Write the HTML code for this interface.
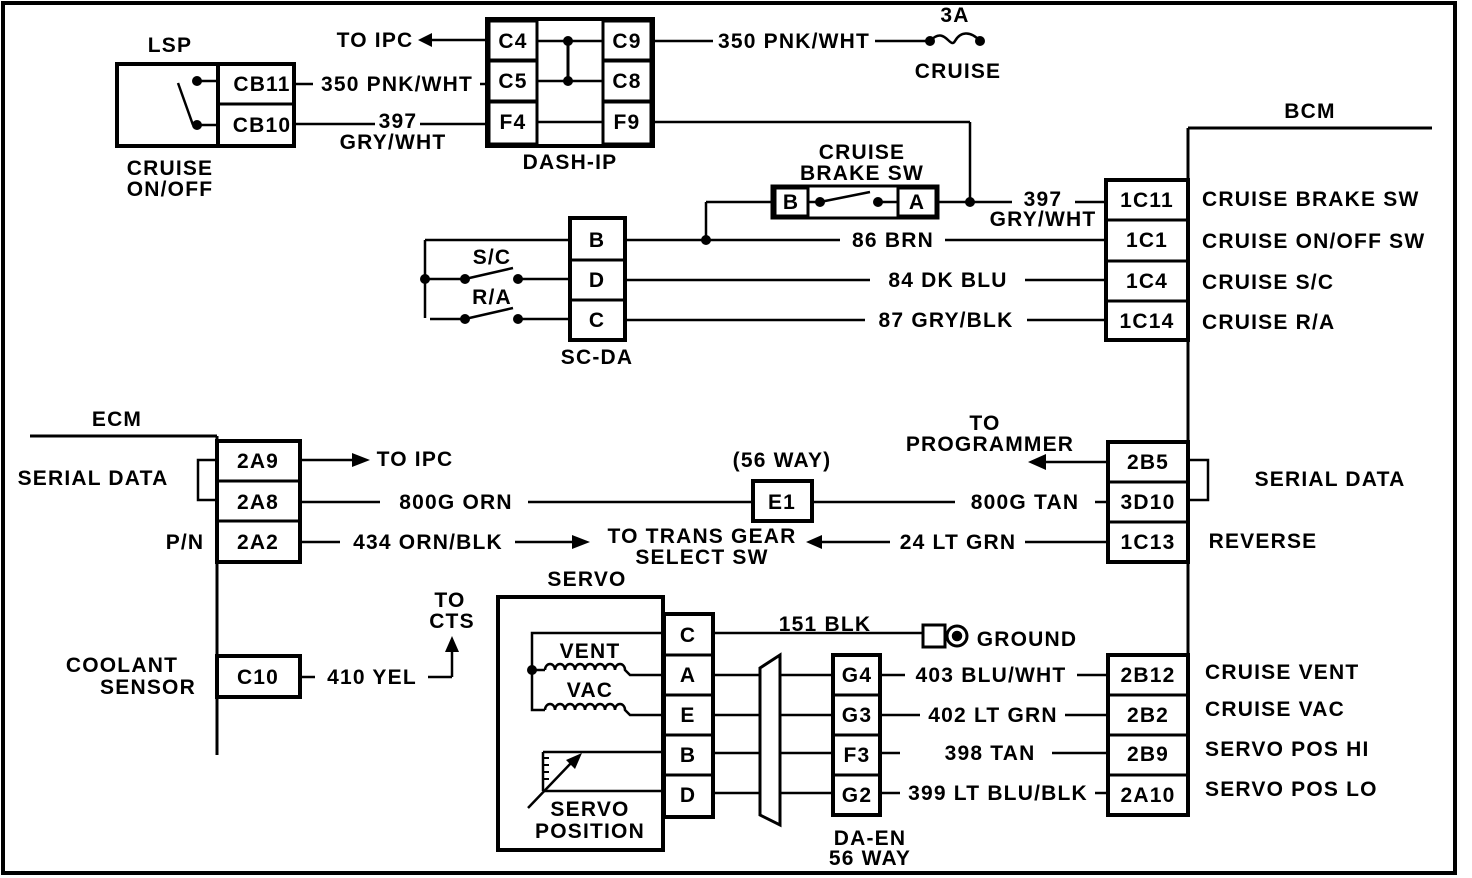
<!DOCTYPE html>
<html><head><meta charset="utf-8"><style>
html,body{margin:0;padding:0;background:#fff;}
svg{display:block;}
text{font-family:"Liberation Sans",Arial,sans-serif;font-weight:bold;font-size:21px;letter-spacing:1.2px;fill:#000;}
</style></head><body>
<svg width="1472" height="878" viewBox="0 0 1472 878" xmlns="http://www.w3.org/2000/svg">
<g fill="none" stroke="#000" stroke-width="2.5">
<rect x="3" y="3" width="1452" height="870" stroke-width="4"/>
<!-- LSP -->
<rect x="117" y="64" width="177" height="82" stroke-width="4"/>
<line x1="218" y1="64" x2="218" y2="146" stroke-width="4"/>
<line x1="218" y1="104" x2="294" y2="104" stroke-width="3"/>
<line x1="178" y1="83" x2="193" y2="125"/>
<line x1="197" y1="81" x2="218" y2="81"/>
<line x1="197" y1="125" x2="218" y2="125"/>
<!-- LSP wires -->
<line x1="294" y1="84" x2="313" y2="84"/><line x1="480" y1="84" x2="487" y2="84"/>
<line x1="294" y1="124" x2="375" y2="124"/><line x1="420" y1="124" x2="487" y2="124"/>
<!-- DASH-IP -->
<rect x="487" y="19" width="166" height="127" stroke-width="4"/>
<rect x="489" y="21" width="48" height="39" stroke-width="3"/>
<rect x="489" y="61" width="48" height="40" stroke-width="3"/>
<rect x="489" y="102" width="48" height="42" stroke-width="3"/>
<rect x="603" y="21" width="48" height="39" stroke-width="3"/>
<rect x="603" y="61" width="48" height="40" stroke-width="3"/>
<rect x="603" y="102" width="48" height="42" stroke-width="3"/>
<line x1="537" y1="41" x2="603" y2="41"/><line x1="537" y1="81" x2="603" y2="81"/><line x1="537" y1="122" x2="603" y2="122"/>
<line x1="568" y1="41" x2="568" y2="81" stroke-width="3"/>
<line x1="432" y1="40" x2="487" y2="40"/>
<line x1="653" y1="41" x2="713" y2="41"/><line x1="875" y1="41" x2="930" y2="41"/>
<path d="M930 41 C945 25,950 50,955 41 S970 30,980 41"/>
<line x1="653" y1="122" x2="970" y2="122"/>
<line x1="970" y1="122" x2="970" y2="202"/>
<!-- brake sw -->
<rect x="772" y="186" width="166" height="32" stroke-width="3"/>
<rect x="775" y="188" width="33" height="28" stroke-width="3"/>
<rect x="898" y="188" width="38" height="28" stroke-width="3"/>
<line x1="808" y1="202" x2="820" y2="202"/><line x1="878" y1="202" x2="898" y2="202"/>
<line x1="820" y1="202" x2="870" y2="192"/>
<line x1="938" y1="202" x2="1012" y2="202"/><line x1="1075" y1="202" x2="1105" y2="202"/>
<line x1="772" y1="202" x2="706" y2="202"/><line x1="706" y1="202" x2="706" y2="240"/>
<!-- BCM -->
<line x1="1188" y1="128" x2="1432" y2="128" stroke-width="3"/>
<line x1="1188" y1="128" x2="1188" y2="815" stroke-width="3"/>
<rect x="1106" y="180" width="82" height="160" stroke-width="4"/>
<line x1="1106" y1="220" x2="1188" y2="220" stroke-width="3"/>
<line x1="1106" y1="261" x2="1188" y2="261" stroke-width="3"/>
<line x1="1106" y1="301" x2="1188" y2="301" stroke-width="3"/>
<!-- SC-DA -->
<rect x="570" y="218" width="55" height="122" stroke-width="4"/>
<line x1="570" y1="260" x2="625" y2="260" stroke-width="3"/>
<line x1="570" y1="300" x2="625" y2="300" stroke-width="3"/>
<line x1="625" y1="240" x2="840" y2="240"/><line x1="945" y1="240" x2="1106" y2="240"/>
<line x1="625" y1="280" x2="870" y2="280"/><line x1="1025" y1="280" x2="1106" y2="280"/>
<line x1="625" y1="320" x2="865" y2="320"/><line x1="1027" y1="320" x2="1106" y2="320"/>
<line x1="425" y1="240" x2="570" y2="240"/><line x1="425" y1="240" x2="425" y2="318"/>
<line x1="425" y1="279" x2="465" y2="279"/><line x1="465" y1="279" x2="513" y2="268"/><line x1="518" y1="279" x2="570" y2="279"/>
<line x1="430" y1="319" x2="465" y2="319"/><line x1="465" y1="319" x2="513" y2="308"/><line x1="518" y1="319" x2="570" y2="319"/>
<!-- ECM -->
<line x1="30" y1="436" x2="217" y2="436" stroke-width="3"/>
<line x1="217" y1="436" x2="217" y2="755" stroke-width="3"/>
<rect x="217" y="441" width="83" height="121" stroke-width="4"/>
<line x1="217" y1="481" x2="300" y2="481" stroke-width="3"/>
<line x1="217" y1="521" x2="300" y2="521" stroke-width="3"/>
<rect x="217" y="656" width="83" height="41" stroke-width="4"/>
<polyline points="217,460 198,460 198,500 217,500"/>
<line x1="300" y1="460" x2="352" y2="460"/>
<line x1="300" y1="502" x2="380" y2="502"/><line x1="528" y1="502" x2="753" y2="502"/>
<rect x="753" y="481" width="59" height="40" stroke-width="4"/>
<line x1="812" y1="502" x2="955" y2="502"/><line x1="1095" y1="502" x2="1108" y2="502"/>
<line x1="300" y1="542" x2="340" y2="542"/><line x1="515" y1="542" x2="572" y2="542"/>
<line x1="822" y1="542" x2="890" y2="542"/><line x1="1025" y1="542" x2="1108" y2="542"/>
<line x1="1046" y1="462" x2="1108" y2="462"/>
<rect x="1108" y="442" width="80" height="120" stroke-width="4"/>
<line x1="1108" y1="482" x2="1188" y2="482" stroke-width="3"/>
<line x1="1108" y1="522" x2="1188" y2="522" stroke-width="3"/>
<polyline points="1188,460 1208,460 1208,500 1188,500"/>
<line x1="300" y1="677" x2="315" y2="677"/><line x1="428" y1="677" x2="452" y2="677"/><line x1="452" y1="677" x2="452" y2="650"/>
<!-- SERVO -->
<rect x="498" y="597" width="165" height="253" stroke-width="4"/>
<rect x="664" y="614" width="49" height="203" stroke-width="4"/>
<line x1="664" y1="655" x2="713" y2="655" stroke-width="3"/>
<line x1="664" y1="695" x2="713" y2="695" stroke-width="3"/>
<line x1="664" y1="735" x2="713" y2="735" stroke-width="3"/>
<line x1="664" y1="775" x2="713" y2="775" stroke-width="3"/>
<polyline points="664,633 532,633 532,710 545,710"/>
<line x1="532" y1="670" x2="545" y2="670"/>
<path d="M545 670 a5 6 0 0 1 10 0 a5 6 0 0 1 10 0 a5 6 0 0 1 10 0 a5 6 0 0 1 10 0 a5 6 0 0 1 10 0 a5 6 0 0 1 10 0 a5 6 0 0 1 10 0 a5 6 0 0 1 10 0 L630 675 L664 675"/>
<path d="M545 710 a5 6 0 0 1 10 0 a5 6 0 0 1 10 0 a5 6 0 0 1 10 0 a5 6 0 0 1 10 0 a5 6 0 0 1 10 0 a5 6 0 0 1 10 0 a5 6 0 0 1 10 0 a5 6 0 0 1 10 0 L630 715 L664 715"/>
<line x1="543" y1="752" x2="664" y2="752"/>
<line x1="543" y1="791" x2="664" y2="791"/>
<line x1="543" y1="752" x2="543" y2="791"/>
<path d="M543 758 h6 M543 765 h6 M543 772 h6 M543 779 h6" stroke-width="2"/>
<line x1="528" y1="808" x2="572" y2="762"/>
<line x1="713" y1="633" x2="922" y2="633"/>
<rect x="923" y="625" width="22" height="22" stroke-width="3"/>
<circle cx="957" cy="636" r="10" stroke-width="3"/><circle cx="957" cy="636" r="4" fill="#000"/>
<line x1="713" y1="675" x2="760" y2="675"/><line x1="713" y1="715" x2="760" y2="715"/>
<line x1="713" y1="753" x2="760" y2="753"/><line x1="713" y1="793" x2="760" y2="793"/>
<polygon points="760,668 780,655 780,825 760,815" stroke-width="3"/>
<line x1="780" y1="675" x2="833" y2="675"/><line x1="780" y1="715" x2="833" y2="715"/>
<line x1="780" y1="753" x2="833" y2="753"/><line x1="780" y1="793" x2="833" y2="793"/>
<rect x="833" y="655" width="47" height="160" stroke-width="4"/>
<line x1="833" y1="695" x2="880" y2="695" stroke-width="3"/>
<line x1="833" y1="735" x2="880" y2="735" stroke-width="3"/>
<line x1="833" y1="775" x2="880" y2="775" stroke-width="3"/>
<line x1="880" y1="675" x2="905" y2="675"/><line x1="1077" y1="675" x2="1108" y2="675"/>
<line x1="880" y1="715" x2="920" y2="715"/><line x1="1065" y1="715" x2="1108" y2="715"/>
<line x1="880" y1="753" x2="900" y2="753"/><line x1="1052" y1="753" x2="1108" y2="753"/>
<line x1="880" y1="793" x2="900" y2="793"/><line x1="1095" y1="793" x2="1108" y2="793"/>
<rect x="1108" y="655" width="80" height="160" stroke-width="4"/>
<line x1="1108" y1="695" x2="1188" y2="695" stroke-width="3"/>
<line x1="1108" y1="735" x2="1188" y2="735" stroke-width="3"/>
<line x1="1108" y1="775" x2="1188" y2="775" stroke-width="3"/>
</g>
<g fill="#000">
<circle cx="197" cy="81" r="5"/><circle cx="197" cy="125" r="5"/>
<circle cx="568" cy="41" r="5"/><circle cx="568" cy="81" r="5"/>
<circle cx="930" cy="41" r="5"/><circle cx="980" cy="41" r="5"/>
<circle cx="970" cy="202" r="5"/><circle cx="706" cy="240" r="5"/>
<circle cx="820" cy="202" r="5"/><circle cx="878" cy="202" r="5"/>
<circle cx="425" cy="279" r="5"/><circle cx="465" cy="279" r="5"/><circle cx="518" cy="279" r="5"/>
<circle cx="465" cy="319" r="5"/><circle cx="518" cy="319" r="5"/>
<circle cx="532" cy="670" r="5"/>
<polygon points="418,40 432,33 432,47"/>
<polygon points="370,460 352,453 352,467"/>
<polygon points="1028,462 1046,454 1046,470"/>
<polygon points="590,542 572,535 572,549"/>
<polygon points="806,542 822,535 822,549"/>
<polygon points="452,636 445,652 459,652"/>
<polygon points="582,753 566,760 575,769"/>
</g>
<g text-anchor="middle">
<text x="170" y="52">LSP</text>
<text x="262" y="91">CB11</text><text x="262" y="132">CB10</text>
<text x="170" y="175">CRUISE</text><text x="170" y="196">ON/OFF</text>
<text x="397" y="91">350 PNK/WHT</text>
<text x="398" y="128">397</text><text x="393" y="149">GRY/WHT</text>
<text x="375" y="47">TO IPC</text>
<text x="513" y="48">C4</text><text x="513" y="88">C5</text><text x="513" y="129">F4</text>
<text x="627" y="48">C9</text><text x="627" y="88">C8</text><text x="627" y="129">F9</text>
<text x="570" y="169">DASH-IP</text>
<text x="794" y="48">350 PNK/WHT</text>
<text x="955" y="22">3A</text><text x="958" y="78">CRUISE</text>
<text x="862" y="159">CRUISE</text><text x="862" y="180">BRAKE SW</text>
<text x="791" y="209">B</text><text x="917" y="209">A</text>
<text x="1043" y="206">397</text><text x="1043" y="226">GRY/WHT</text>
<text x="1310" y="118">BCM</text>
<text x="1147" y="207">1C11</text><text x="1147" y="247">1C1</text>
<text x="1147" y="288">1C4</text><text x="1147" y="328">1C14</text>
<text x="597" y="247">B</text><text x="597" y="287">D</text><text x="597" y="327">C</text>
<text x="597" y="364">SC-DA</text>
<text x="492" y="264">S/C</text><text x="492" y="304">R/A</text>
<text x="893" y="247">86 BRN</text>
<text x="948" y="287">84 DK BLU</text>
<text x="946" y="327">87 GRY/BLK</text>
<text x="117" y="426">ECM</text>
<text x="258" y="468">2A9</text><text x="258" y="509">2A8</text><text x="258" y="549">2A2</text>
<text x="258" y="684">C10</text>
<text x="93" y="485">SERIAL DATA</text>
<text x="185" y="549">P/N</text>
<text x="122" y="672">COOLANT</text><text x="148" y="694">SENSOR</text>
<text x="415" y="466">TO IPC</text>
<text x="456" y="509">800G ORN</text>
<text x="782" y="467">(56 WAY)</text>
<text x="782" y="509">E1</text>
<text x="1025" y="509">800G TAN</text>
<text x="985" y="430">TO</text><text x="990" y="451">PROGRAMMER</text>
<text x="1148" y="469">2B5</text><text x="1148" y="509">3D10</text><text x="1148" y="549">1C13</text>
<text x="1330" y="486">SERIAL DATA</text>
<text x="1263" y="548">REVERSE</text>
<text x="428" y="549">434 ORN/BLK</text>
<text x="702" y="543">TO TRANS GEAR</text><text x="702" y="564">SELECT SW</text>
<text x="958" y="549">24 LT GRN</text>
<text x="450" y="607">TO</text><text x="452" y="628">CTS</text>
<text x="372" y="684">410 YEL</text>
<text x="587" y="586">SERVO</text>
<text x="590" y="658">VENT</text><text x="590" y="697">VAC</text>
<text x="590" y="816">SERVO</text><text x="590" y="838">POSITION</text>
<text x="688" y="642">C</text><text x="688" y="682">A</text><text x="688" y="722">E</text>
<text x="688" y="762">B</text><text x="688" y="802">D</text>
<text x="825" y="631">151 BLK</text>
<text x="1027" y="646">GROUND</text>
<text x="857" y="682">G4</text><text x="857" y="722">G3</text><text x="857" y="762">F3</text><text x="857" y="802">G2</text>
<text x="870" y="845">DA-EN</text><text x="870" y="865">56 WAY</text>
<text x="991" y="682">403 BLU/WHT</text>
<text x="993" y="722">402 LT GRN</text>
<text x="990" y="760">398 TAN</text>
<text x="998" y="800">399 LT BLU/BLK</text>
<text x="1148" y="682">2B12</text><text x="1148" y="722">2B2</text><text x="1148" y="761">2B9</text><text x="1148" y="802">2A10</text>
</g>
<g>
<text x="1202" y="206">CRUISE BRAKE SW</text>
<text x="1202" y="248">CRUISE ON/OFF SW</text>
<text x="1202" y="289">CRUISE S/C</text>
<text x="1202" y="329">CRUISE R/A</text>
<text x="1205" y="679">CRUISE VENT</text>
<text x="1205" y="716">CRUISE VAC</text>
<text x="1205" y="756">SERVO POS HI</text>
<text x="1205" y="796">SERVO POS LO</text>
</g>
</svg>
</body></html>
